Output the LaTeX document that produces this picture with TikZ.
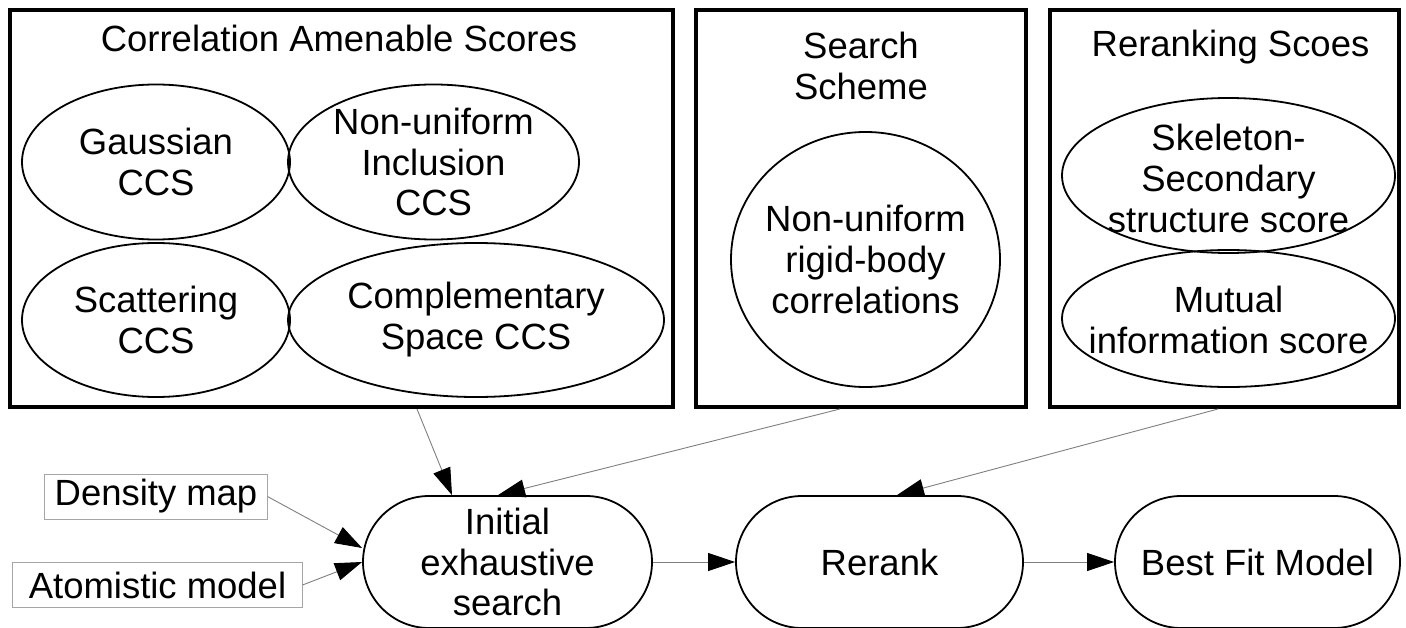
\documentclass[tikz,border=0pt]{standalone}
\usepackage{fontspec}
\setmainfont{Liberation Sans}
\usetikzlibrary{shapes.geometric,shapes.misc,arrows.meta}

\tikzset{
  every node/.style={font=\fontsize{36.6}{41.1}\selectfont, align=center},
  group/.style={draw=black, line width=4bp, rectangle, inner sep=0pt},
  oval/.style={draw=black, line width=1.8bp, ellipse, inner sep=0pt},
  pill/.style={draw=black, line width=1.8bp, rounded rectangle, inner sep=0pt,
               minimum height=132bp},
  inbox/.style={draw=gray!70, line width=1bp, rectangle, inner sep=0pt,
                minimum height=45bp},
  flow/.style={draw=gray, line width=0.9bp,
               -{Triangle[length=27bp,width=18bp,color=black,fill=black]}},
}

\begin{document}
\begin{tikzpicture}[x=1bp, y=-1bp]
\useasboundingbox[fill=white] (0,0) rectangle (1406,628);

% three groups of scores
\node[group, minimum width=663bp, minimum height=397bp] (ccsbox) at (341.5,208.5) {};
\node (ccstitle) at (339,38) {Correlation Amenable Scores};

\node[group, minimum width=330bp, minimum height=397bp] (schbox) at (861,208.5) {};
\node (schtitle) at (861,66) {Search\\Scheme};

\node[group, minimum width=349bp, minimum height=397bp] (rrbox) at (1224.5,208.5) {};
\node (rrtitle) at (1230.5,47) {Reranking Scoes};

% correlation amenable scores
\node[oval, minimum width=268bp, minimum height=155bp, label={center:Gaussian\\CCS}] (gauss) at (156,162) {};
\node[oval, minimum width=291bp, minimum height=155bp, label={center:Non-uniform\\Inclusion\\CCS}] (incl) at (433.5,162) {};
\node[oval, minimum width=268bp, minimum height=154bp, label={center:Scattering\\CCS}] (scat) at (156,320) {};
\node[oval, minimum width=376bp, minimum height=154bp, label={center:Complementary\\Space CCS}] (comp) at (476,320) {};

% search scheme
\node[oval, minimum width=269bp, minimum height=255bp, label={center:Non-uniform\\rigid-body\\correlations}] (rigid) at (865.5,259.5) {};

% reranking scores
\node[oval, minimum width=333bp, minimum height=155bp, label={[yshift=-3bp]center:Skeleton-\\Secondary\\structure score}] (skel) at (1228.5,175.5) {};
\node[oval, minimum width=333bp, minimum height=137bp, label={[yshift=-1bp]center:Mutual\\information score}] (mutual) at (1228.5,318.5) {};

% inputs
\node[inbox, minimum width=222bp] (dmap) at (156,496.5) {Density map};
\node[inbox, minimum width=289bp] (amodel) at (157.5,585) {Atomistic model};

% pipeline
\node[pill, minimum width=289bp] (init) at (507.5,562) {Initial\\exhaustive\\search};
\node[pill, minimum width=287bp] (rerank) at (879.5,562) {Rerank};
\node[pill, minimum width=285bp] (best) at (1257.5,562) {Best Fit Model};

% connectors
\coordinate (ccsout) at ([xshift=75.5bp]ccsbox.south);
\coordinate (schout) at ([xshift=-21bp]schbox.south);
\coordinate (rrout) at ([xshift=-6.5bp]rrbox.south);

\draw[flow] (ccsout) -- ([xshift=-55.5bp]init.north);
\draw[flow] (schout) -- ([xshift=-9.5bp]init.north);
\draw[flow] (rrout) -- ([xshift=17.5bp]rerank.north);
\draw[flow] (dmap.east) -- ([yshift=14bp]init.west);
\draw[flow] (amodel.east) -- (init.west);
\draw[flow] (init.east) -- (rerank.west);
\draw[flow] (rerank.east) -- (best.west);
\end{tikzpicture}
\end{document}
